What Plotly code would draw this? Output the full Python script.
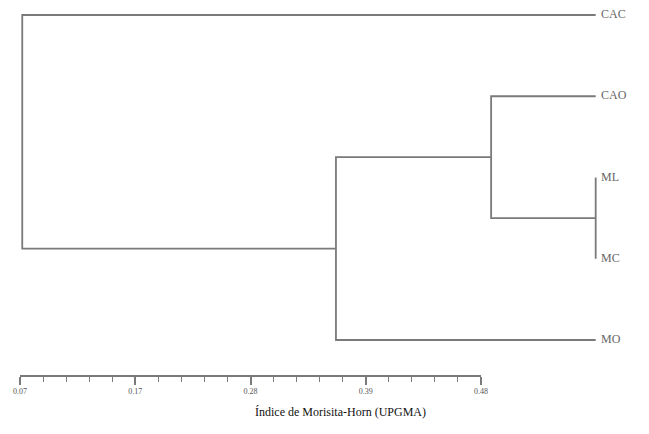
import plotly.graph_objects as go

# ---- data ----
leaves = ["CAC", "CAO", "ML", "MC", "MO"]
leaf_pos = [0, 1, 2, 3, 4]
leaf_height = 0.582
# merges: (left cluster, right cluster, height); clusters referenced by name
merge_left = ["ML", "CAO", "N1", "CAC"]
merge_right = ["MC", "N0", "MO", "N2"]
merge_height = [0.582, 0.489, 0.351, 0.072]
tick_vals = [0.07, 0.1725, 0.275, 0.3775, 0.48]
tick_text = ["0.07", "0.17", "0.28", "0.39", "0.48"]
axis_title = "Índice de Morisita-Horn (UPGMA)"

W, H = 649, 434
OFF = 8  # page body margin compensation
line_col = "#7a7a7a"

# node positions
pos = {n: (leaf_height, p) for n, p in zip(leaves, leaf_pos)}
xs, ys = [], []
for i, (a, b, h) in enumerate(zip(merge_left, merge_right, merge_height)):
    xa, ya = pos[a]
    xb, yb = pos[b]
    xs += [xa, h, h, xb, None]
    ys += [ya, ya, yb, yb, None]
    pos["N%d" % i] = (h, (ya + yb) / 2)

fig = go.Figure()
fig.add_trace(go.Scatter(x=xs, y=ys, mode="lines",
                         line=dict(color=line_col, width=1.8),
                         hoverinfo="skip", showlegend=False))
fig.add_trace(go.Scatter(x=[leaf_height] * len(leaves), y=leaf_pos, mode="markers+text",
                         text=leaves, textposition="middle right",
                         marker=dict(size=7, opacity=0),
                         textfont=dict(family="Liberation Serif", size=12, color="#666666"),
                         showlegend=False, hoverinfo="skip"))
# dummy trace for the scale axis
fig.add_trace(go.Scatter(x=[tick_vals[0], tick_vals[-1]], y=[0, 0], mode="markers",
                         marker=dict(opacity=0), xaxis="x2", yaxis="y2",
                         showlegend=False, hoverinfo="skip"))

# pixel mapping for main x: 0.07 at px 20, 0.48 at px 481 (screen coords)
px07, px48 = 20 - OFF, 481 - OFF
k = (0.48 - 0.07) / (px48 - px07)
x0 = 0.07 - px07 * k
x1 = 0.07 + (W - px07) * k
# y mapping: leaf 0 at px 15, leaf 4 at px 340 (screen coords)
py0, py4 = 15 - OFF, 340 - OFF
s = (py4 - py0) / 4
y_top = -py0 / s
y_bot = (H - py0) / s

axis_px = 375 - OFF
fig.update_layout(
    width=W, height=H,
    margin=dict(l=0, r=0, t=0, b=0, autoexpand=False),
    paper_bgcolor="white", plot_bgcolor="white",
    xaxis=dict(range=[x0, x1], domain=[0, 1], visible=False, fixedrange=True, automargin=False),
    yaxis=dict(range=[y_bot, y_top], domain=[0, 1], visible=False, fixedrange=True, automargin=False),
    xaxis2=dict(range=[0.07, 0.48], domain=[px07 / W, px48 / W], anchor="y2", automargin=False,
                showline=True, linecolor=line_col, linewidth=1.5,
                ticks="outside", ticklen=8, tickwidth=1.5, tickcolor=line_col,
                tickvals=tick_vals, ticktext=tick_text, showgrid=False, zeroline=False,
                tickfont=dict(family="Liberation Serif", size=8, color="#555555"),
                minor=dict(ticks="outside", ticklen=5, tickwidth=1.2, tickcolor=line_col,
                           tickvals=[0.07 + i * 0.1025 / 5 for i in range(21)], showgrid=False)),
    yaxis2=dict(domain=[(H - axis_px) / H, (H - axis_px) / H + 0.005], visible=False,
                range=[-1, 1], fixedrange=True, automargin=False),
    annotations=[dict(text=axis_title, xref="paper", yref="paper",
                      x=(340 - OFF) / W, y=(H - 412 + OFF) / H, xanchor="center", yanchor="middle",
                      showarrow=False,
                      font=dict(family="Liberation Serif", size=12, color="#111111"))],
)

fig.write_html("out.html")
